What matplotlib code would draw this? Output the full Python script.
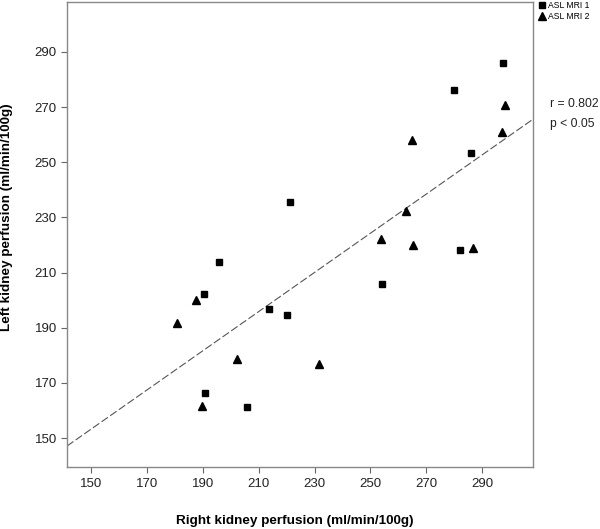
import numpy as np
import matplotlib
matplotlib.use('Agg')
import matplotlib.pyplot as plt

plt.rcParams['font.family'] = ['Liberation Sans', 'DejaVu Sans']

# ASL MRI 1 (squares)
mri1_right = [297.5, 280.0, 286.1, 221.1, 195.7, 190.6, 213.6, 220.0, 190.7, 205.7, 254.3, 282.1]
mri1_left = [286.0, 276.2, 253.4, 235.6, 213.9, 202.2, 196.8, 194.6, 166.3, 161.2, 205.9, 218.2]

# ASL MRI 2 (triangles)
mri2_right = [298.1, 297.1, 264.8, 262.6, 253.8, 265.4, 286.7, 187.7, 180.8, 202.4, 231.7, 189.6]
mri2_left = [270.8, 261.0, 258.0, 232.3, 222.3, 220.1, 219.0, 200.0, 191.8, 178.7, 176.7, 161.6]

# regression line
fit_slope = 0.7104
fit_intercept = 46.65

ticks = [150, 170, 190, 210, 230, 250, 270, 290]
xlim = (141.4, 308.2)
ylim = (139.5, 308.1)

fig = plt.figure(figsize=(6.0, 5.29), dpi=100)
ax = fig.add_axes([67/600, 62/529, 466/600, 465/529])

xs = np.array(xlim)
ax.plot(xs, fit_slope * xs + fit_intercept, color='#555555', lw=0.8,
        dashes=(7, 2.5), zorder=1)

ax.plot(mri1_right, mri1_left, 's', color='black', markersize=4.3,
        linestyle='none', label='ASL MRI 1', zorder=3)
ax.plot(mri2_right, mri2_left, '^', color='black', markersize=6,
        linestyle='none', label='ASL MRI 2', zorder=3)

ax.set_xlim(xlim)
ax.set_ylim(ylim)
ax.set_xticks(ticks)
ax.set_yticks(ticks)
ax.tick_params(direction='out', length=4.3, width=0.8, color='#666666',
               labelsize=9.5, labelcolor='#222222')
ax.tick_params(axis='x', pad=3.6)
ax.tick_params(axis='y', pad=3)
for s in ax.spines.values():
    s.set_color('#888888')
    s.set_linewidth(1.0)

ax.set_xlabel('Right kidney perfusion (ml/min/100g)', fontsize=9.7,
              fontweight='bold', va='center')
ax.xaxis.set_label_coords(0.488, -0.116)
ax.set_ylabel('Left kidney perfusion (ml/min/100g)', fontsize=9.7,
              fontweight='bold', va='center')
ax.yaxis.set_label_coords(-0.129, 0.537)

ax.legend(loc='upper left', bbox_to_anchor=(538/600, 1.0),
          bbox_transform=fig.transFigure, frameon=False,
          fontsize=6.2, handletextpad=0.3, handlelength=0.8,
          labelspacing=0.25, borderaxespad=0, borderpad=0.1)

fig.text(550/600, 1 - 104/529, 'r = 0.802', fontsize=8.7, va='center',
         color='#222222')
fig.text(550/600, 1 - 124/529, 'p < 0.05', fontsize=8.7, va='center',
         color='#222222')

fig.savefig('out.png', dpi=100)
